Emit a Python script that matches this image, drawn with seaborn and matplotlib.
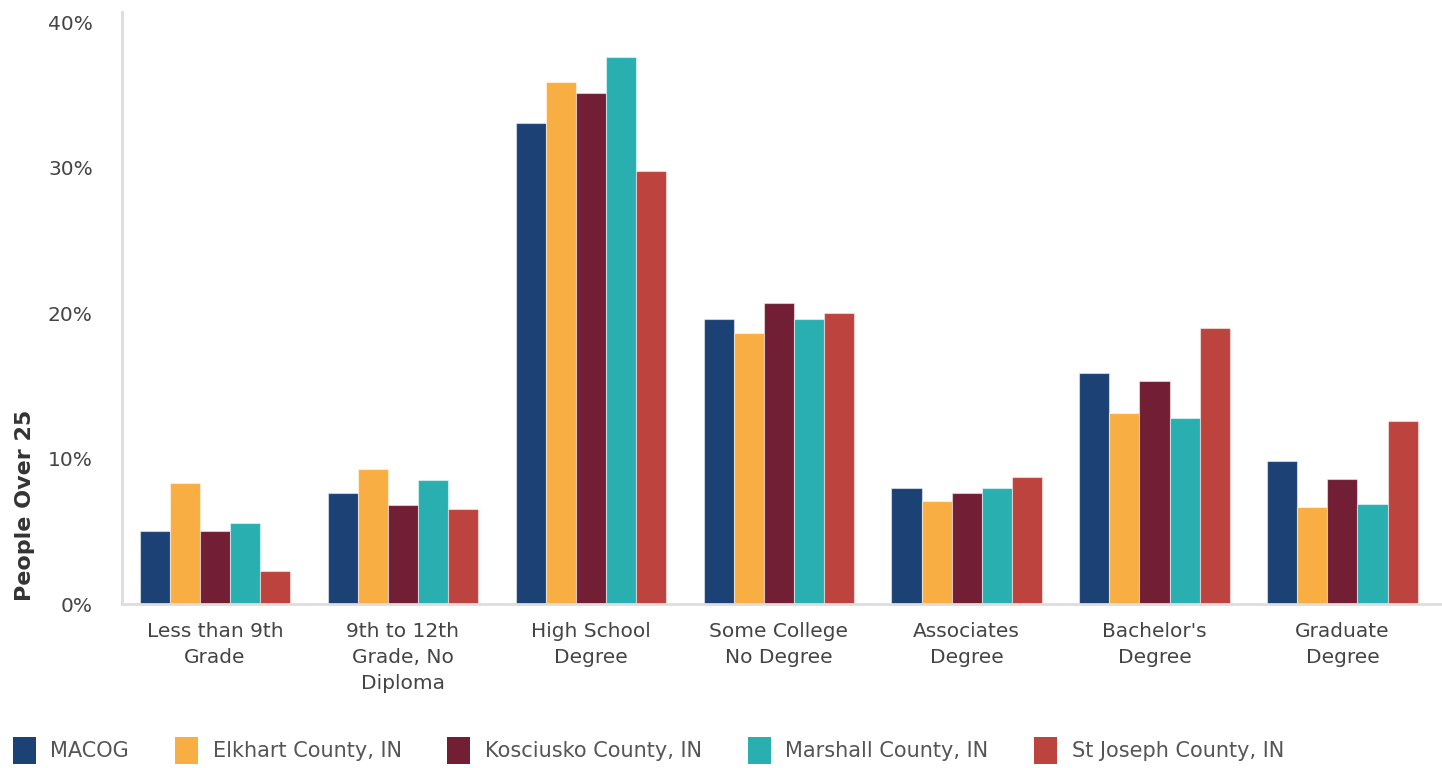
import matplotlib
matplotlib.use("Agg")
import matplotlib.pyplot as plt
import matplotlib.patches as mpatches
from matplotlib.ticker import FuncFormatter
import seaborn as sns
import pandas as pd

categories = [
    "Less than 9th\nGrade",
    "9th to 12th\nGrade, No\nDiploma",
    "High School\nDegree",
    "Some College\nNo Degree",
    "Associates\nDegree",
    "Bachelor's\nDegree",
    "Graduate\nDegree",
]
regions = ["MACOG", "Elkhart County, IN", "Kosciusko County, IN",
           "Marshall County, IN", "St Joseph County, IN"]

macog = [5.0, 7.6, 33.1, 19.6, 8.0, 15.9, 9.8]
elkhart = [8.3, 9.3, 35.9, 18.6, 7.1, 13.1, 6.7]
kosciusko = [5.0, 6.8, 35.1, 20.7, 7.6, 15.3, 8.6]
marshall = [5.6, 8.5, 37.6, 19.6, 8.0, 12.8, 6.9]
st_joseph = [2.3, 6.5, 29.8, 20.0, 8.7, 19.0, 12.6]

colors = ["#1c4275", "#f8ae43", "#721f36", "#2aafb0", "#bd433f"]

series = [macog, elkhart, kosciusko, marshall, st_joseph]
rows = []
for region, vals in zip(regions, series):
    for cat, v in zip(categories, vals):
        rows.append({"Category": cat, "Region": region, "Value": v})
df = pd.DataFrame(rows)

sns.set_theme(style="white")
plt.rcParams["font.family"] = ["DejaVu Sans"]

fig = plt.figure(figsize=(14.42, 7.68), dpi=100)
ax = fig.add_axes([122 / 1442, 1 - 604 / 768, 1320 / 1442, (604 - 12) / 768])

sns.barplot(data=df, x="Category", y="Value", hue="Region",
            hue_order=regions, order=categories, palette=colors,
            width=0.8, saturation=1, legend=False, ax=ax,
            edgecolor=(1, 1, 1, 0.5), linewidth=0.8)

ax.set_ylim(0, 40.7)
ax.set_xlim(-0.495, 6.53)
ax.set_yticks([0, 10, 20, 30, 40])
ax.yaxis.set_major_formatter(FuncFormatter(lambda v, p: f"{v:.0f}%"))

for side in ["top", "right"]:
    ax.spines[side].set_visible(False)
for side in ["left", "bottom"]:
    ax.spines[side].set_color("#dddddd")
    ax.spines[side].set_linewidth(2)

ax.tick_params(axis="y", direction="in", length=8, width=2.5,
               color="#dddddd", pad=21, labelsize=14.5, labelcolor="#444444")
ax.tick_params(axis="x", length=0, pad=13, labelsize=14.5, labelcolor="#444444")
for lbl in ax.get_xticklabels():
    lbl.set_linespacing(1.45)

ax.set_xlabel("")
ax.set_ylabel("People Over 25", fontsize=16, fontweight="bold", color="#333333")
ax.yaxis.set_label_coords(-0.066, 0.167)

handles = [mpatches.Patch(facecolor=c, edgecolor="none", label=r)
           for c, r in zip(colors, regions)]
fig.legend(handles=handles, loc="upper left",
           bbox_to_anchor=(13 / 1442, 1 - 737 / 768), ncol=5, frameon=False,
           fontsize=15, labelcolor="#555555", handlelength=1.1,
           handleheight=1.6, handletextpad=0.7, columnspacing=2.2,
           borderpad=0, borderaxespad=0)

fig.savefig("out.png", dpi=100)
